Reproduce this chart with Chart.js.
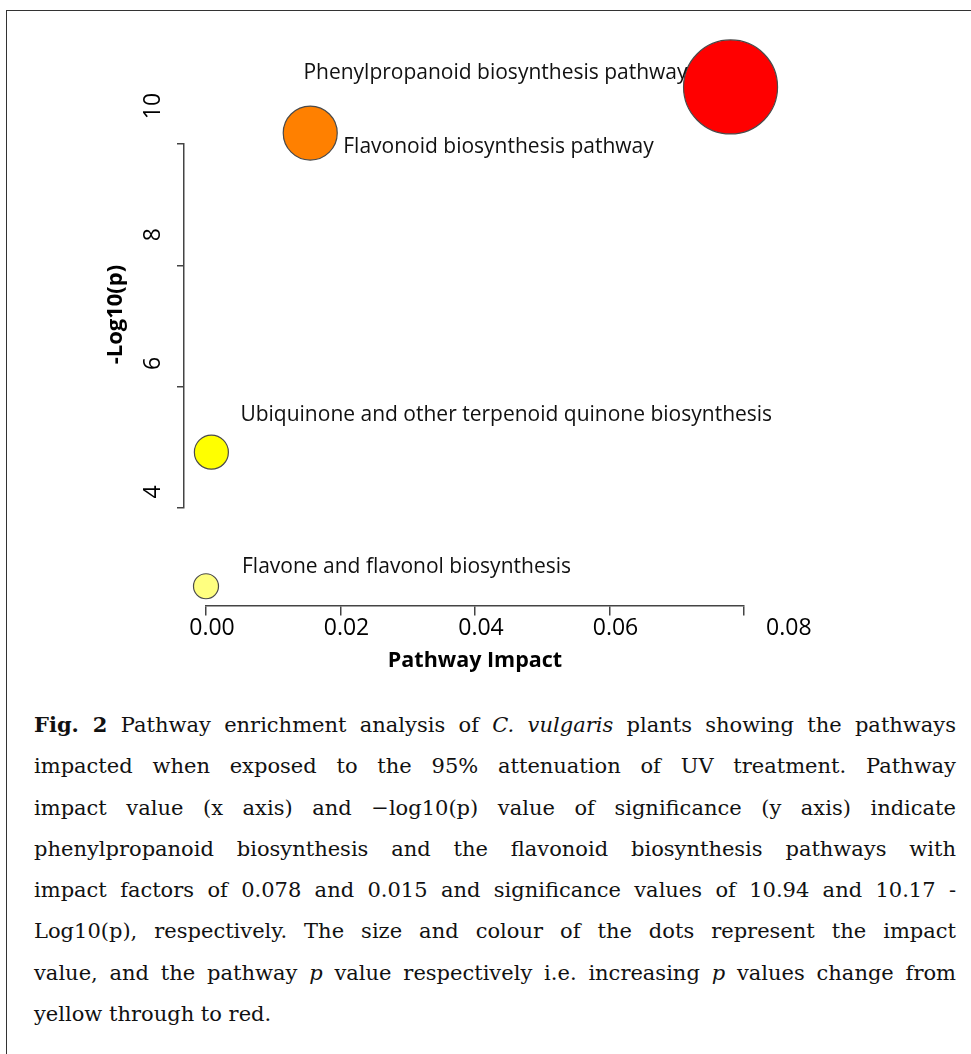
<!DOCTYPE html>
<html>
<head>
<meta charset="utf-8">
<script src="https://cdn.jsdelivr.net/npm/chart.js@4.4.0/dist/chart.umd.min.js"></script>
<style>
  html, body { margin: 0; padding: 0; background: #fff; }
  body { width: 971px; height: 1054px; position: relative; overflow: hidden; }
  #frame { position: absolute; left: 6px; top: 10px; width: 1000px; height: 1100px;
           border-left: 1.5px solid #333; border-top: 1.5px solid #333; }
  #plot { position: absolute; left: 0; top: 0; }
  #caption { position: absolute; left: 34px; top: 704px; width: 922px;
             font-family: "DejaVu Serif", serif; font-size: 19px; line-height: 41.3px; color: #111; }
  #caption div { white-space: nowrap; text-align: justify; text-align-last: justify; }
  #caption div.last { text-align-last: left; }
</style>
</head>
<body>
<div id="frame"></div>
<canvas id="plot" width="971" height="690"></canvas>
<div id="caption">
  <div><b>Fig. 2</b> Pathway enrichment analysis of <i>C. vulgaris</i> plants showing the pathways</div>
  <div>impacted when exposed to the 95% attenuation of UV treatment. Pathway</div>
  <div>impact value (x axis) and &minus;log10(p) value of significance (y axis) indicate</div>
  <div>phenylpropanoid biosynthesis and the flavonoid biosynthesis pathways with</div>
  <div>impact factors of 0.078 and 0.015 and significance values of 10.94 and 10.17 -</div>
  <div>Log10(p), respectively. The size and colour of the dots represent the impact</div>
  <div>value, and the pathway <i>p</i> value respectively i.e. increasing <i>p</i> values change from</div>
  <div class="last">yellow through to red.</div>
</div>
<script>
// pathways
var pathways = ['Phenylpropanoid biosynthesis pathway', 'Flavonoid biosynthesis pathway',
                'Ubiquinone and other terpenoid quinone biosynthesis', 'Flavone and flavonol biosynthesis'];
var impact = [0.078, 0.0155, 0.0008, 0.0];
var logP = [10.94, 10.18, 4.92, 2.71];
var bubbleR = [47, 27, 17, 12.5];

var xTicks = [0, 0.02, 0.04, 0.06, 0.08];
var xTickLabels = ['0.00', '0.02', '0.04', '0.06', '0.08'];
var yTicks = [4, 6, 8, 10];

var dotColors = ['#FF0000', '#FF8000', '#FFFF00', '#FFFF80'];
// label offset from bubble centre: dx, dy, align
var labelPlace = [[-43, -14, 'right'], [33, 14, 'left'], [29, -37, 'left'], [36, -19, 'left']];

// caption: size the font so the longest line just fills the column
var cap = document.getElementById('caption');
var capLines = cap.querySelectorAll('div');
var widest = 0;
capLines.forEach(function(d) {
  d.style.display = 'inline-block';
  widest = Math.max(widest, d.getBoundingClientRect().width);
  d.style.display = '';
});
cap.style.fontSize = Math.min(21, 19 * 916 / widest) + 'px';

// bubbles above 10 and below 4 lie outside the axis box, let them draw anyway
var looseArea = {
  id: 'looseArea',
  beforeDatasetsDraw: function(chart) {
    chart.$keptArea = chart.chartArea;
    chart.chartArea = {left: 0, top: 0, right: chart.width, bottom: chart.height,
                       width: chart.width, height: chart.height};
  },
  afterDatasetsDraw: function(chart) {
    chart.chartArea = chart.$keptArea;
  }
};

var pathwayLabels = {
  id: 'pathwayLabels',
  afterDatasetsDraw: function(chart) {
    var c = chart.ctx;
    var meta = chart.getDatasetMeta(0);
    c.save();
    c.font = '21px "Open Sans"';
    c.fillStyle = '#111';
    c.textBaseline = 'middle';
    meta.data.forEach(function(pt, i) {
      var p = labelPlace[i];
      c.textAlign = p[2];
      c.fillText(pathways[i], pt.x + p[0], pt.y + p[1]);
    });
    c.restore();
  }
};

var axisColor = '#444';

new Chart(document.getElementById('plot'), {
  type: 'bubble',
  data: {
    datasets: [{
      data: impact.map(function(v, i) { return {x: v, y: logP[i], r: bubbleR[i]}; }),
      backgroundColor: dotColors,
      borderColor: '#4a4a4a',
      borderWidth: 1.2,
      xAxisID: 'x',
      yAxisID: 'y',
      clip: false
    }]
  },
  options: {
    responsive: false,
    animation: false,
    events: [],
    layout: { padding: { left: 0, right: 227, top: 144, bottom: 182 } },
    plugins: { legend: { display: false }, tooltip: { enabled: false } },
    scales: {
      x: {
        type: 'linear', min: 0, max: 0.08,
        position: { y: 2.385 },
        afterBuildTicks: function(s) { s.ticks = xTicks.map(function(v) { return {value: v}; }); },
        grid: { drawOnChartArea: false, tickLength: 9, color: axisColor, lineWidth: 1.5 },
        border: { color: axisColor, width: 1.5 },
        ticks: {
          font: { family: 'Open Sans', size: 23 }, color: '#000', padding: 0, labelOffset: 6,
          autoSkip: false, maxRotation: 0,
          callback: function(v, i) {
            // the last label sits further right in the original
            return i === xTicks.length - 1 ? '             ' + xTickLabels[i] : xTickLabels[i];
          }
        },
        title: { display: true, text: 'Pathway Impact', color: '#000',
                 font: { family: 'Open Sans', size: 21.5, weight: 'bold' }, padding: { top: 5, bottom: 0 } }
      },
      y: {
        type: 'linear', min: 4, max: 10,
        position: { x: -0.00327 },
        afterBuildTicks: function(s) { s.ticks = yTicks.map(function(v) { return {value: v}; }); },
        grid: { drawOnChartArea: false, tickLength: 6, color: axisColor, lineWidth: 1.5 },
        border: { color: axisColor, width: 1.5 },
        ticks: { display: false }
      },
      // tick labels and title of the y axis, which are set apart from the axis line
      yl: {
        type: 'linear', axis: 'y', position: 'left', min: 3.751, max: 9.409,
        afterBuildTicks: function(s) { s.ticks = yTicks.map(function(v) { return {value: v}; }); },
        afterFit: function(s) { s.width = 206; },
        grid: { display: false },
        border: { display: false },
        ticks: { font: { family: 'Open Sans', size: 23 }, color: '#000', minRotation: 90, maxRotation: 90,
                 crossAlign: 'center', padding: 31, autoSkip: false },
        title: { display: true, text: '    -Log10(p)', color: '#000',
                 font: { family: 'Open Sans', size: 22, weight: 'bold' }, padding: { top: 103, bottom: 0 } }
      }
    }
  },
  plugins: [looseArea, pathwayLabels]
});
</script>
</body>
</html>
